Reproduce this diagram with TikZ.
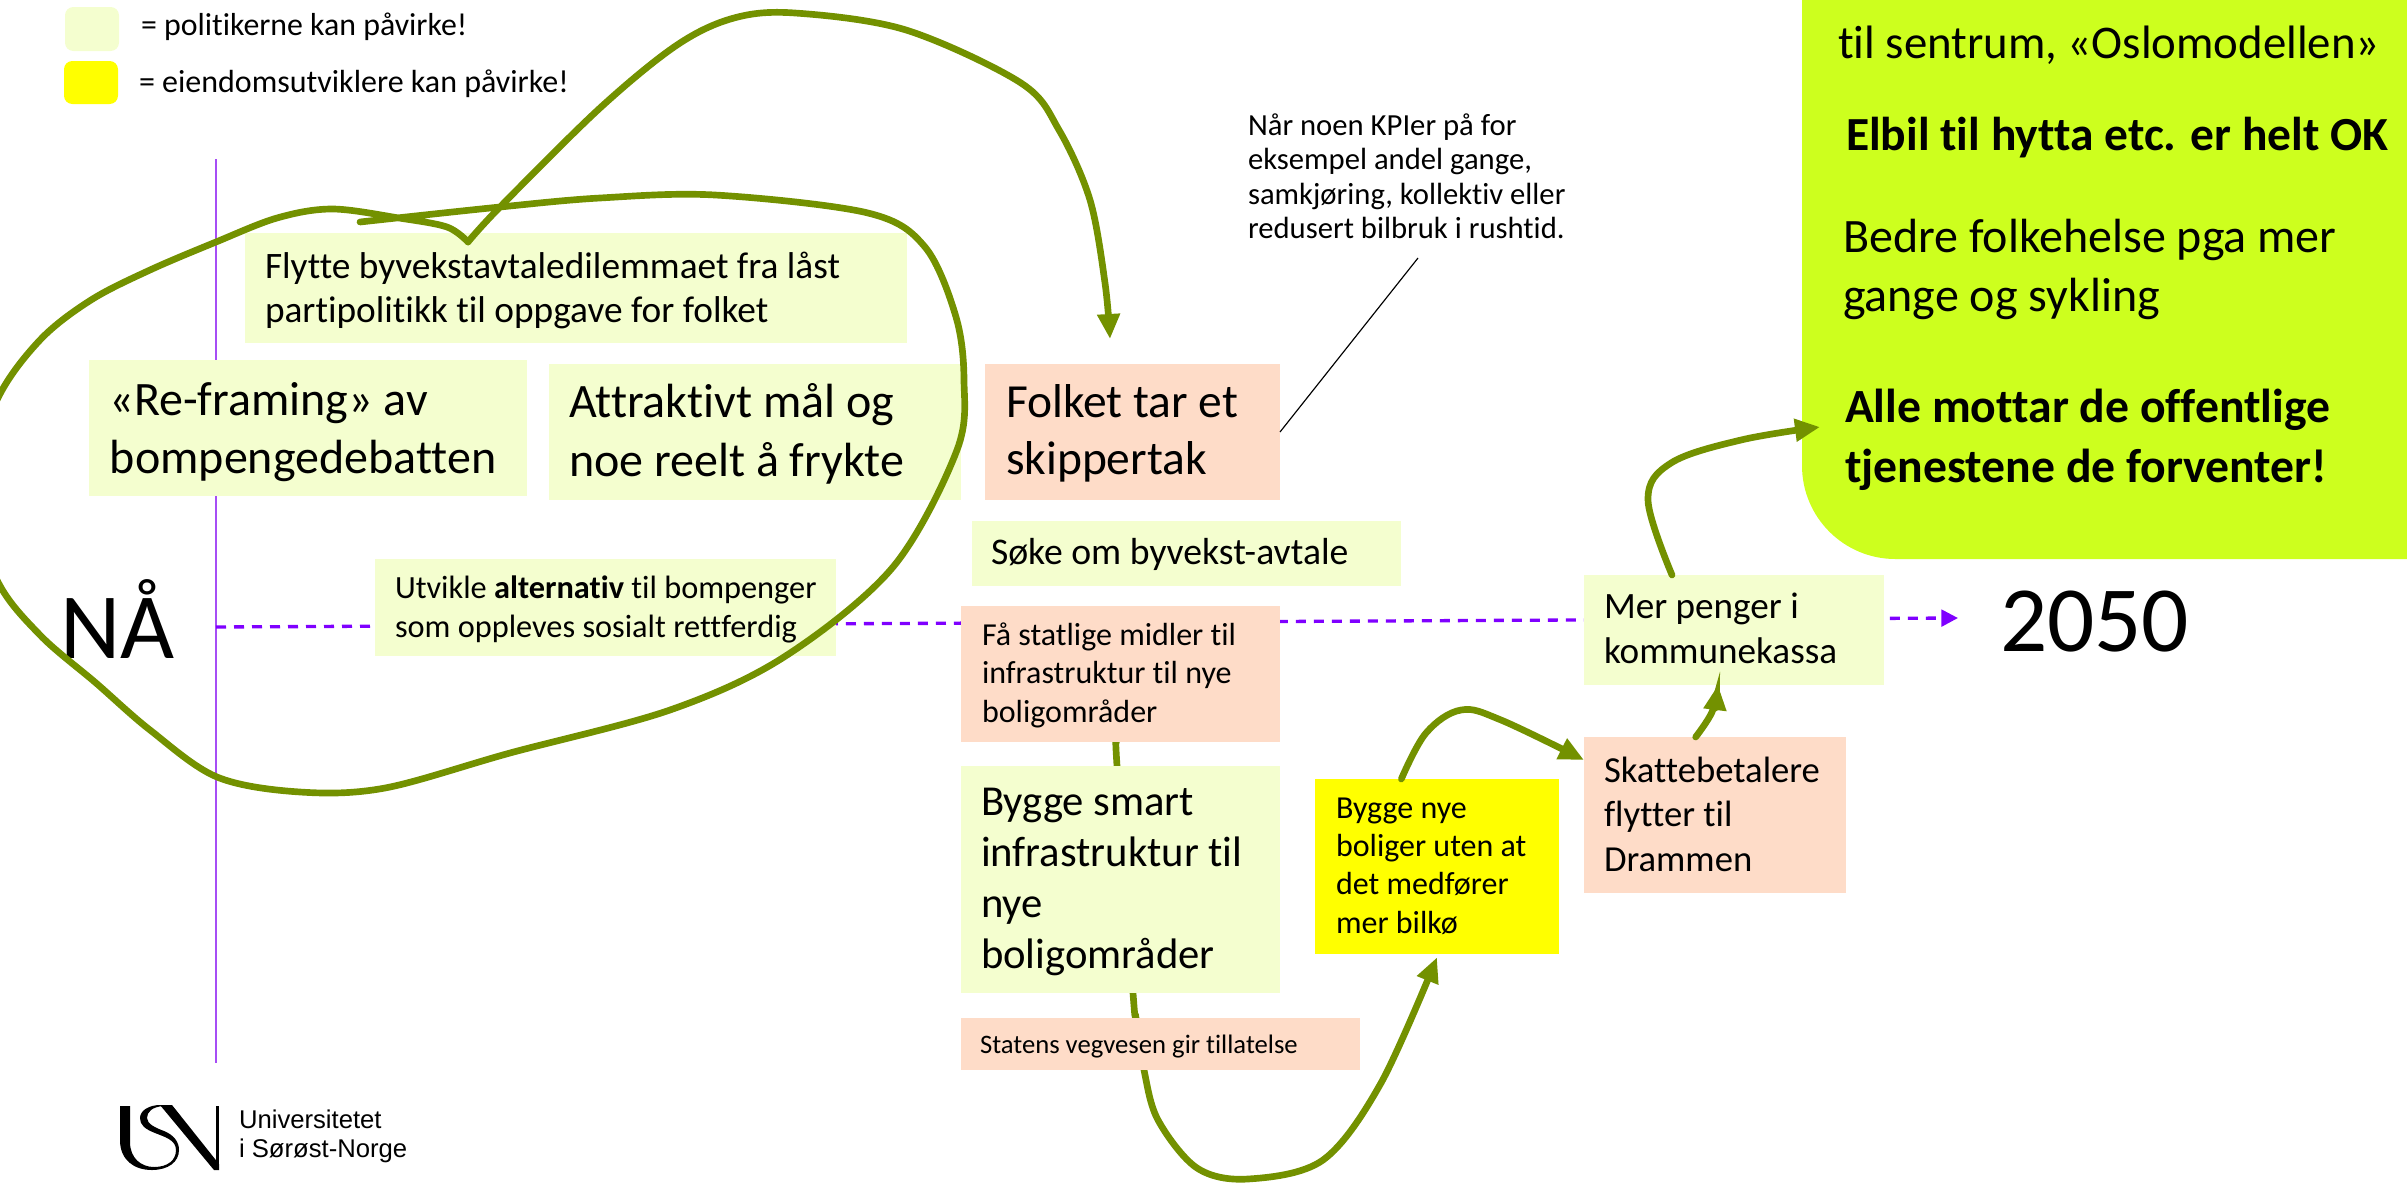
\documentclass[tikz,border=0pt]{standalone}
\usepackage{fontspec}
\setmainfont{Carlito}[Ligatures=NoCommon]
\newfontfamily\logofont{Liberation Sans}
\usetikzlibrary{arrows.meta}
\definecolor{polgreen}{HTML}{F4FECF}
\definecolor{peach}{HTML}{FEDCC8}
\definecolor{goalgreen}{HTML}{CDFF1E}
\definecolor{olivearrow}{HTML}{739100}
\definecolor{tlpurple}{HTML}{7F00FF}
\definecolor{vlpurple}{HTML}{A64DF5}
\definecolor{pureyellow}{HTML}{FFFF00}
\tikzset{
  blockbox/.style={anchor=north west,inner sep=0pt,outer sep=0pt,draw=none},
  pol/.style={blockbox,fill=polgreen},
  pee/.style={blockbox,fill=peach},
  yel/.style={blockbox,fill=pureyellow},
  txt/.style={anchor=base west,inner sep=0pt,outer sep=0pt,text width=260pt,align=flush left,text=black},
  freehand/.style={draw=olivearrow,line width=2pt,line cap=round,line join=miter},
  arrowed/.style={freehand,-{Triangle[length=7.5pt,width=6.5pt]}},
}
\newcommand{\fpt}[2]{\fontsize{#1pt}{#2pt}\selectfont}
\newcommand{\bx}[6]{\node[#1,minimum width={(#5-#3)*0.3pt},minimum height={(#6-#4)*0.3pt}] (#2) at (#3,#4) {};}
\newcommand{\tx}[5]{\node[txt] (#1) at (#2,#3) {#4#5\par};}
\begin{document}
\begin{tikzpicture}[x=0.3pt,y=-0.3pt]
\useasboundingbox (0,0) rectangle (2407,1182);
\clip (0,0) rectangle (2407,1182);
% timeline
\coordinate (vtop) at (216,159);
\coordinate (vbot) at (216,1063);
\coordinate (dashstart) at (216,627);
\coordinate (dashend) at (1958,618);
\draw[vlpurple,line width=0.6pt] (vtop) -- (vbot);
\draw[tlpurple,line width=1pt,dash pattern=on 3pt off 2.4pt,-{Triangle[length=5pt,width=5pt]}] (dashstart) -- (dashend);
% boxes
\node[blockbox,fill=goalgreen,rounded corners=28pt,minimum width={900*0.3pt},minimum height={759*0.3pt}] (goal) at (1802,-200) {};
\node[pol,rounded corners=2.5pt,minimum width={54*0.3pt},minimum height={44*0.3pt}] (legpol) at (65,7) {};
\node[yel,rounded corners=2.5pt,minimum width={54*0.3pt},minimum height={43*0.3pt}] (legyel) at (64,61) {};
\bx{pee}{fa}{961}{606}{1280}{742}
\bx{yel}{nye}{1315}{779}{1559}{954}
\bx{pee}{skatte}{1584}{737}{1846}{893}
\bx{pol}{mer}{1584}{575}{1884}{685}
% connectors behind the boxes
\coordinate (faout) at ([xshift=-1.2pt]fa.south);
\coordinate (nyein) at ([yshift=-1pt]nye.south);
\draw[arrowed] plot[smooth,tension=0.55] coordinates {(faout) (1117,766) (1133,993) (1136,1018) (1144,1070) (1158,1120) (1197,1168) (1248,1179) (1323,1160) (1381,1083) (nyein)};
\bx{pol}{flytte}{245}{233}{907}{343}
\bx{pol}{reframe}{89}{360}{527}{496}
\bx{pol}{attr}{549}{364}{961}{500}
\bx{pol}{utvikle}{375}{559}{836}{656}
\bx{pee}{folket}{985}{364}{1280}{500}
\bx{pol}{soke}{972}{521}{1401}{586}
\bx{pee}{fatop}{961}{606}{1280}{742}
\bx{pol}{bygge}{961}{766}{1280}{993}
\bx{pee}{statens}{961}{1018}{1360}{1070}
% texts
\tx{leg1}{141}{35}{\fpt{9.55}{11}}{= politikerne kan påvirke!}
\tx{leg2}{139}{92}{\fpt{9.6}{11}}{= eiendomsutviklere kan påvirke!}
\tx{tflytte}{265}{278}{\fpt{11.2}{13.2}}{Flytte byvekstavtaledilemmaet fra låst\\partipolitikk til oppgave for folket}
\tx{treframe}{110}{415}{\fpt{14.4}{17.4}}{«Re-framing» av\\bompengedebatten}
\tx{tattr}{569}{417}{\fpt{14.4}{17.7}}{Attraktivt mål og\\noe reelt å frykte}
\tx{tutvikle}{395}{598}{\fpt{9.7}{11.7}}{Utvikle \textbf{alternativ} til bompenger\\som oppleves sosialt rettferdig}
\tx{tna}{60}{658}{\fpt{28}{32}}{NÅ}
\tx{tnote}{1248}{135}{\fpt{9.2}{10.35}}{Når noen KPIer på for\\eksempel andel gange,\\samkjøring, kollektiv eller\\redusert bilbruk i rushtid.}
\tx{tfolket}{1006}{417}{\fpt{14.25}{17.3}}{Folket tar et\\skippertak}
\tx{tsoke}{991}{564}{\fpt{11.3}{13}}{Søke om byvekst-avtale}
\tx{tfa}{982}{645}{\fpt{9.6}{11.55}}{Få statlige midler til\\infrastruktur til nye\\boligområder}
\tx{tbygge}{981}{815}{\fpt{12.8}{15.3}}{Bygge smart\\infrastruktur til\\nye\\boligområder}
\tx{tstatens}{980}{1053}{\fpt{8}{9.5}}{Statens vegvesen gir tillatelse}
\tx{tnye}{1336}{818}{\fpt{9.6}{11.5}}{Bygge nye\\boliger uten at\\det medfører\\mer bilkø}
\tx{tskatte}{1604}{782}{\fpt{11}{13.35}}{Skattebetalere\\flytter til\\Drammen}
\tx{tmer}{1604}{618}{\fpt{11.15}{13.5}}{Mer penger i\\kommunekassa}
\tx{t2050}{2000}{651}{\fpt{28}{32}}{2050}
\tx{tg1}{1838}{58}{\fpt{14.05}{16}}{til sentrum, «Oslomodellen»}
\tx{tg2}{1846}{150}{\fpt{14.25}{16}}{\textbf{Elbil til hytta etc. er helt OK}}
\tx{tg3}{1843}{252}{\fpt{14.4}{17.7}}{Bedre folkehelse pga mer\\gange og sykling}
\tx{tg4}{1845}{422}{\fpt{14.3}{18.1}}{\textbf{Alle mottar de offentlige}\\\textbf{tjenestene de forventer!}}
% note leader
\coordinate (noteend) at (1418,258);
\draw[black,line width=0.35pt] (folket.east |- 1280,432) -- (noteend);
% freehand loop and long arrow
\coordinate (loopstart) at (360,222);
\coordinate (corner) at (468,242);
\coordinate (folkin) at ([xshift=-6.75pt,yshift=7.5pt]folket.north);
\draw[freehand] plot[smooth,tension=0.55] coordinates {(loopstart) (500,207) (600,198) (715,195) (868,213) (925,247) (956,317) (964,380) (957,450) (893,567) (784,657) (670,710) (510,753) (385,788) (300,792) (217,777) (150,730) (96,683) (40,635) (-3,580) (-30,490) (-3,400) (40,340) (91,300) (150,270) (216,242) (277,218) (332,209) (399,218) (447,227) (corner)};
\draw[arrowed] plot[smooth,tension=0.55] coordinates {(corner) (500,207) (600,108) (677,45) (734,18) (795,13) (906,30) (1021,83) (1059,130) (1090,200) (1105,283) (folkin)};
% other arrows
\coordinate (nyeout) at ([xshift=-10.7pt]nye.north);
\coordinate (skin) at ([yshift=-6.9pt]skatte.north west);
\draw[arrowed] plot[smooth,tension=0.6] coordinates {(nyeout) (1426,733) (1461,710) (1501,720) (skin)};
\coordinate (skout) at ([xshift=-5.8pt]skatte.north);
\coordinate (merin) at ([xshift=-4.8pt]mer.south);
\draw[arrowed] plot[smooth,tension=0.6] coordinates {(skout) (1712,712) (merin)};
\coordinate (merout) at ([xshift=-18.6pt]mer.north);
\coordinate (goalin) at (1820,427);
\draw[arrowed] plot[smooth,tension=0.6] coordinates {(merout) (1648,500) (1671,463) (1741,440) (goalin)};
% logo
\fill[black] (120,1106)--(130,1106)--(130,1142) .. controls (130,1158) and (141,1167) .. (154,1167) .. controls (168,1167) and (176,1160) .. (176,1150) -- (179,1150) .. controls (179,1162) and (168,1170) .. (152,1170) .. controls (134,1170) and (120,1160) .. (120,1140) -- cycle;
\fill[black] (176,1150) .. controls (176,1140) and (165,1137) .. (155,1133) .. controls (145,1129) and (140,1125) .. (140,1118) .. controls (140,1110) and (150,1105) .. (160,1105) -- (163,1106) .. controls (152,1107) and (147,1112) .. (147,1118) .. controls (147,1124) and (156,1128) .. (164,1131) .. controls (174,1135) and (179,1142) .. (179,1150) -- cycle;
\fill[black] (160,1105) -- (172,1105) -- (219,1164) -- (219,1170) -- (214,1170) -- cycle;
\fill[black] (216,1106) -- (219,1106) -- (219,1170) -- (216,1170) -- cycle;
\node[txt] (logotext) at (239,1128) {\logofont\fontsize{7.7pt}{8.7pt}\selectfont Universitetet\\i Sørøst-Norge\par};
\end{tikzpicture}
\end{document}
